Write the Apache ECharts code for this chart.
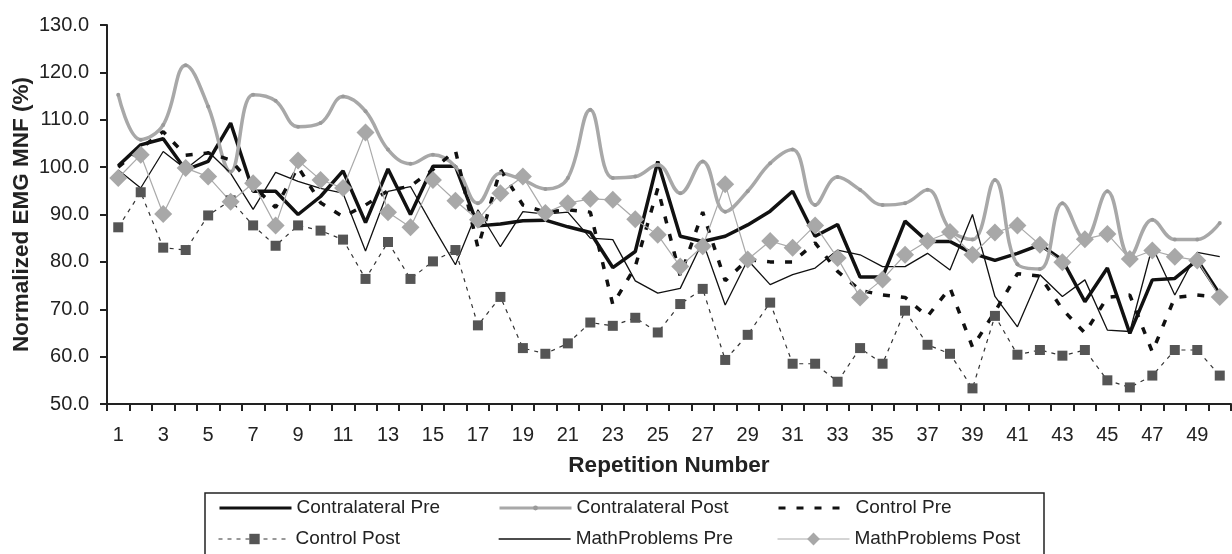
<!DOCTYPE html>
<html>
<head>
<meta charset="utf-8">
<script src="https://cdn.jsdelivr.net/npm/echarts@6/dist/echarts.min.js"></script>
<style>
  html, body { margin: 0; padding: 0; background: #fff; }
  #chart { width: 1232px; height: 554px; }
</style>
</head>
<body>
<div id="chart"></div>
<script>
const categories = Array.from({length: 50}, (_, i) => String(i + 1));
const yTicks = [50, 60, 70, 80, 90, 100, 110, 120, 130];

const contralateralPre = [100.3,104.7,106,99.4,101.2,109.3,94.9,94.9,90,93.8,99.2,88.3,99.6,90,100.2,100.2,87.6,88,88.7,88.8,87.4,86.2,78.8,82.2,101.2,85.4,84.3,85.4,87.8,90.7,94.9,85.4,87.9,76.8,76.8,88.6,84.3,84.3,81.8,80.3,81.8,83.6,80.4,71.6,78.7,64.9,76.2,76.5,80.4,73.2];
const contralateralPost = [115.3,105.8,108.9,121.5,112.8,99,115.3,114,108.5,109.3,114.9,111.8,103.7,100.7,102.6,100.1,92.4,98.7,97.3,95.4,97.7,112.1,97.7,98,100.5,94.5,101.2,90.6,94.9,100.8,103.7,92,97.9,95.2,92,92.4,95.2,86.8,84.7,97.3,79.5,78.5,92.4,84.7,94.9,81.1,88.9,84.7,84.7,88.2];
const controlPre = [100,104,107.5,102.5,103,101.5,96,91.5,100,92.5,89.5,92,95,96,99.5,103.5,83,99.5,92,90.5,91,90.5,71,79,95.5,77,90.5,76,80.5,80,80,84,78,74,73,72.5,68.5,74.5,62,69.5,77.5,77,70,65,72.5,73,61,72.5,73,72.5];
const controlPost = [87.3,94.7,83,82.5,89.8,93,87.7,83.4,87.7,86.6,84.7,76.4,84.2,76.4,80.1,82.5,66.6,72.6,61.8,60.6,62.8,67.2,66.5,68.2,65.1,71.1,74.3,59.3,64.6,71.4,58.5,58.5,54.7,61.8,58.5,69.7,62.5,60.6,53.3,68.6,60.4,61.4,60.2,61.4,55,53.5,56,61.4,61.4,56];
const mathPre = [99.4,95.6,103.3,99.6,103.3,98.7,91.1,98.9,97,95.5,94.5,82.3,94.9,95.9,87.5,79.4,91,83.2,90.6,90.1,90.5,85,84.7,76,73.4,74.4,84.3,70.9,80.4,75.2,77.3,78.7,82.5,81.5,79,79,81.8,78.3,90,72.7,66.3,77.3,72.7,76.2,65.6,65.3,83.2,73,82,81.1];
const mathPost = [97.7,102.6,90.1,99.8,98,92.7,96.6,87.7,101.4,97.3,95.6,107.3,90.5,87.3,97.3,92.9,88.9,94.5,98,90.3,92.4,93.3,93.1,89,85.7,79,83.3,96.4,80.5,84.4,83,87.7,80.8,72.5,76.3,81.5,84.4,86.3,81.5,86.2,87.7,83.6,79.9,84.8,85.9,80.6,82.4,81.1,80.3,72.6];

const FONT = "'Liberation Sans', Arial, sans-serif";
const legendText = { fontFamily: FONT, fontSize: 19, color: '#222', lineHeight: 20 };

function legendAt(name, left, rowCenter, lineWidth, hideSymbol, itemHeight) {
  const h = itemHeight || 14;
  const l = {
    data: [name], left: left, top: rowCenter - 10, padding: 0,
    itemWidth: 72, itemHeight: h,
    textStyle: legendText,
    lineStyle: { width: lineWidth },
    selectedMode: false
  };
  if (hideSymbol) l.itemStyle = { opacity: 0 };
  return l;
}

const chart = echarts.init(document.getElementById('chart'), null, { renderer: 'canvas' });
chart.setOption({
  animation: false,
  backgroundColor: '#fff',
  grid: { left: 107, right: 1, top: 25, bottom: 150, containLabel: false, outerBoundsMode: 'none' },
  graphic: [{
    type: 'rect', z: 0,
    shape: { x: 205, y: 493, width: 839, height: 80 },
    style: { fill: 'none', stroke: '#222', lineWidth: 1.5 }
  }],
  legend: [
    legendAt('Contralateral Pre', 218, 508, 3, true),
    legendAt('Contralateral Post', 498, 508, 3, false, 6),
    legendAt('Control Pre', 777, 508, 3, true),
    legendAt('Control Post', 218, 539, 1, false, 13),
    legendAt('MathProblems Pre', 498, 539, 1.3, true),
    legendAt('MathProblems Post', 777, 539, 1, false, 16)
  ],
  xAxis: {
    type: 'category', data: categories, boundaryGap: true,
    name: 'Repetition Number', nameLocation: 'middle', nameGap: 50, nameMoveOverlap: false,
    nameTextStyle: { fontFamily: FONT, fontSize: 22.5, fontWeight: 'bold', color: '#222' },
    axisLine: { lineStyle: { color: '#222', width: 2 } },
    axisTick: { show: true, interval: 0, length: 7, lineStyle: { color: '#222', width: 2 } },
    axisLabel: { interval: 1, fontFamily: FONT, fontSize: 20, color: '#222', margin: 21 },
    splitLine: { show: false }
  },
  yAxis: {
    type: 'value', min: yTicks[0], max: yTicks[yTicks.length - 1], interval: 10,
    name: 'Normalized EMG MNF (%)', nameLocation: 'middle', nameGap: 74, nameMoveOverlap: false,
    nameTextStyle: { fontFamily: FONT, fontSize: 22.5, fontWeight: 'bold', color: '#222' },
    axisLine: { show: true, lineStyle: { color: '#222', width: 2 } },
    axisTick: { show: true, length: 7, lineStyle: { color: '#222', width: 2 } },
    axisLabel: { fontFamily: FONT, fontSize: 20, color: '#222', margin: 18,
      formatter: v => v.toFixed(1) },
    splitLine: { show: false }
  },
  series: [
    { name: 'Contralateral Pre', type: 'line', data: contralateralPre, symbol: 'none',
      color: '#111', lineStyle: { color: '#111', width: 3.5 } },
    { name: 'Contralateral Post', type: 'line', data: contralateralPost, smooth: 0.4,
      symbol: 'circle', symbolSize: 4, showAllSymbol: true, color: '#a0a0a0',
      itemStyle: { color: '#9a9a9a' }, lineStyle: { color: '#a8a8a8', width: 3.5 } },
    { name: 'Control Pre', type: 'line', data: controlPre, symbol: 'none',
      color: '#111', lineStyle: { color: '#111', width: 3.5, type: [7, 11] } },
    { name: 'Control Post', type: 'line', data: controlPost, symbol: 'rect', symbolSize: 10,
      showAllSymbol: true,
      color: '#555', itemStyle: { color: '#555' }, lineStyle: { color: '#333', width: 1.2, type: [4, 5] } },
    { name: 'MathProblems Pre', type: 'line', data: mathPre, symbol: 'none',
      color: '#111', lineStyle: { color: '#111', width: 1.3 } },
    { name: 'MathProblems Post', type: 'line', data: mathPost, symbol: 'diamond', symbolSize: 18,
      showAllSymbol: true,
      color: '#a8a8a8', itemStyle: { color: '#a8a8a8' }, lineStyle: { color: '#aaa', width: 1.2 } }
  ]
});
</script>
</body>
</html>
